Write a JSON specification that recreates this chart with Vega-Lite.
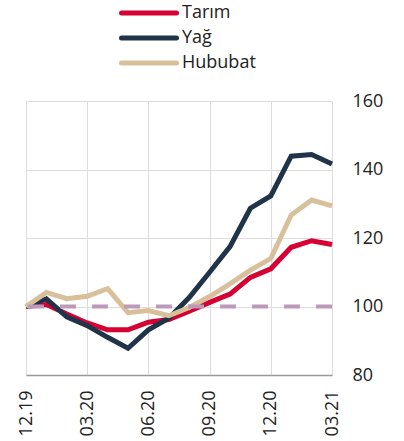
{
  "$schema": "https://vega.github.io/schema/vega-lite/v6.json",
  "autosize": "none",
  "width": 306,
  "height": 274,
  "padding": {"left": 26, "top": 101, "right": 72, "bottom": 66},
  "config": {
    "font": "Open Sans",
    "view": {"stroke": null}
  },
  "datasets": {
    "series": [
      {"month": "12.19", "series": "Tarım", "value": 100},
      {"month": "01.20", "series": "Tarım", "value": 100.6},
      {"month": "02.20", "series": "Tarım", "value": 97.8},
      {"month": "03.20", "series": "Tarım", "value": 95.2},
      {"month": "04.20", "series": "Tarım", "value": 93.2},
      {"month": "05.20", "series": "Tarım", "value": 93.2},
      {"month": "06.20", "series": "Tarım", "value": 95.4},
      {"month": "07.20", "series": "Tarım", "value": 96.2},
      {"month": "08.20", "series": "Tarım", "value": 98.6},
      {"month": "09.20", "series": "Tarım", "value": 101.2},
      {"month": "10.20", "series": "Tarım", "value": 103.6},
      {"month": "11.20", "series": "Tarım", "value": 108.5},
      {"month": "12.20", "series": "Tarım", "value": 111},
      {"month": "01.21", "series": "Tarım", "value": 117.3},
      {"month": "02.21", "series": "Tarım", "value": 119.2},
      {"month": "03.21", "series": "Tarım", "value": 118.1},
      {"month": "12.19", "series": "Yağ", "value": 100},
      {"month": "01.20", "series": "Yağ", "value": 102.2},
      {"month": "02.20", "series": "Yağ", "value": 97},
      {"month": "03.20", "series": "Yağ", "value": 94.4},
      {"month": "04.20", "series": "Yağ", "value": 91},
      {"month": "05.20", "series": "Yağ", "value": 87.8},
      {"month": "06.20", "series": "Yağ", "value": 93.2},
      {"month": "07.20", "series": "Yağ", "value": 96.6},
      {"month": "08.20", "series": "Yağ", "value": 102.6},
      {"month": "09.20", "series": "Yağ", "value": 110},
      {"month": "10.20", "series": "Yağ", "value": 117.5},
      {"month": "11.20", "series": "Yağ", "value": 128.7},
      {"month": "12.20", "series": "Yağ", "value": 132.3},
      {"month": "01.21", "series": "Yağ", "value": 143.9},
      {"month": "02.21", "series": "Yağ", "value": 144.4},
      {"month": "03.21", "series": "Yağ", "value": 141.6},
      {"month": "12.19", "series": "Hububat", "value": 100},
      {"month": "01.20", "series": "Hububat", "value": 104.1},
      {"month": "02.20", "series": "Hububat", "value": 102.3},
      {"month": "03.20", "series": "Hububat", "value": 103},
      {"month": "04.20", "series": "Hububat", "value": 105.2},
      {"month": "05.20", "series": "Hububat", "value": 98.2},
      {"month": "06.20", "series": "Hububat", "value": 98.8},
      {"month": "07.20", "series": "Hububat", "value": 97.3},
      {"month": "08.20", "series": "Hububat", "value": 99.7},
      {"month": "09.20", "series": "Hububat", "value": 102.9},
      {"month": "10.20", "series": "Hububat", "value": 106.6},
      {"month": "11.20", "series": "Hububat", "value": 110.6},
      {"month": "12.20", "series": "Hububat", "value": 114},
      {"month": "01.21", "series": "Hububat", "value": 126.7},
      {"month": "02.21", "series": "Hububat", "value": 131.1},
      {"month": "03.21", "series": "Hububat", "value": 129.4}
    ],
    "ref": [{"ref": 100}]
  },
  "layer": [
    {
      "data": {"name": "series"},
      "mark": {"type": "line", "strokeWidth": 5, "strokeJoin": "miter"},
      "encoding": {
        "x": {
          "field": "month",
          "type": "ordinal",
          "scale": {
            "type": "point",
            "padding": 0,
            "domain": ["12.19", "01.20", "02.20", "03.20", "04.20", "05.20", "06.20", "07.20", "08.20", "09.20", "10.20", "11.20", "12.20", "01.21", "02.21", "03.21"]
          },
          "axis": {
            "title": null,
            "values": ["12.19", "03.20", "06.20", "09.20", "12.20", "03.21"],
            "labelAngle": -90,
            "labelFontSize": 18,
            "labelColor": "#222222",
            "labelPadding": 15,
            "ticks": false,
            "domain": true,
            "domainColor": "#999999",
            "domainWidth": 1.5,
            "grid": true,
            "gridColor": "#dddddd",
            "gridWidth": 1
          }
        },
        "y": {
          "field": "value",
          "type": "quantitative",
          "scale": {"domain": [80, 160], "nice": false, "zero": false},
          "axis": {
            "title": null,
            "orient": "right",
            "values": [80, 100, 120, 140, 160],
            "labelFontSize": 18,
            "labelColor": "#222222",
            "labelPadding": 20,
            "ticks": false,
            "domain": false,
            "grid": true,
            "gridColor": "#dddddd",
            "gridWidth": 1
          }
        },
        "color": {
          "field": "series",
          "type": "nominal",
          "scale": {
            "domain": ["Tarım", "Yağ", "Hububat"],
            "range": ["#d60032", "#1f3349", "#d8c09b"]
          },
          "legend": {
            "title": null,
            "orient": "none",
            "legendX": 114,
            "legendY": -97,
            "direction": "vertical",
            "symbolType": "M-10,0H10",
            "symbolSize": 30.25,
            "symbolStrokeWidth": 5,
            "labelFontSize": 18,
            "labelColor": "#222222",
            "labelOffset": 24,
            "rowPadding": 5,
            "encode": {
              "symbols": {"update": {"strokeCap": {"value": "round"}}}
            }
          }
        }
      }
    },
    {
      "data": {"name": "ref"},
      "mark": {"type": "rule", "color": "#bb9abb", "strokeWidth": 4, "strokeDash": [16, 16]},
      "encoding": {
        "y": {"field": "ref", "type": "quantitative"}
      }
    }
  ]
}
